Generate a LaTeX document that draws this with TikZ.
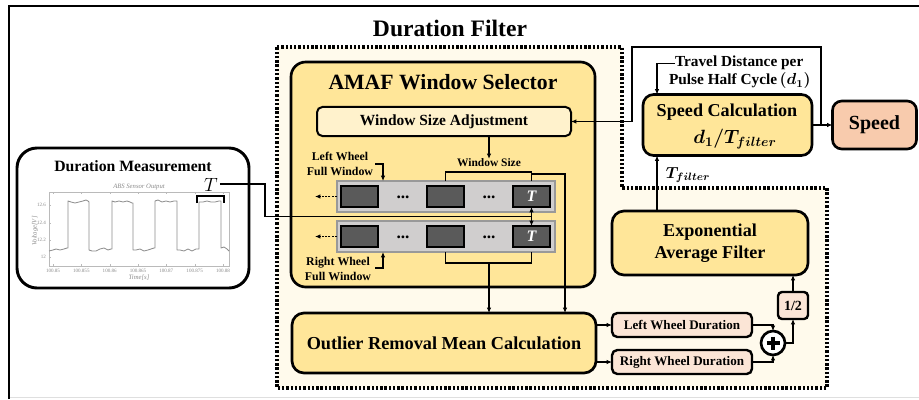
\documentclass[tikz,border=0pt]{standalone}
\usepackage{bm}
\usepackage{fontspec}
\setmainfont{Liberation Serif}
\usetikzlibrary{arrows.meta,calc}
\definecolor{cream}{HTML}{FFFAEC}
\definecolor{yel}{HTML}{FFE699}
\definecolor{lightyel}{HTML}{FFF2CC}
\definecolor{salmon}{HTML}{F8CBAD}
\definecolor{pinkb}{HTML}{FBE5D6}
\definecolor{barg}{HTML}{D0CECE}
\definecolor{cellg}{HTML}{5A5A5A}
\definecolor{plotg}{HTML}{8C8C8C}
\begin{document}
\begin{tikzpicture}[x=0.75pt,y=-0.75pt,
  every node/.style={inner sep=0pt, outer sep=0pt},
  conn/.style={line width=1.1pt, draw=black},
  arr/.style={conn, -{Latex[length=4pt,width=3.4pt]}},
  bx/.style={draw=black, line width=2pt, fill=yel, font=\bfseries},
  cellst/.style={draw=black, line width=0.9pt, fill=cellg, minimum width=27.75pt, minimum height=15.75pt, text=white, font=\bfseries\itshape\fontsize{12}{12}\selectfont},
  barst/.style={draw=gray!80, line width=1.1pt, fill=barg, minimum width=163.5pt, minimum height=23.25pt},
  lab/.style={font=\bfseries\fontsize{8.9}{11.25}\selectfont, align=center},
  dotsst/.style={font=\bfseries\fontsize{13}{13}\selectfont},
  tick/.style={font=\fontsize{3.8}{4}\selectfont, text=plotg},
]
\useasboundingbox (0,0) rectangle (919,399);

% outer frame
\draw[gray!25, line width=0.8pt] (9,397.5) -- (919,397.5);
\draw[line width=2.2pt] (9,399) -- (9,6) -- (919,6);

% dotted region
\draw[fill=cream, line width=2.3pt, dash pattern=on 1.8pt off 1.4pt]
  (277,47) -- (622,47) -- (622,188) -- (827,188) -- (827,388) -- (277,388) -- cycle;

\node[font=\bfseries\fontsize{17.7}{18}\selectfont] (title) at (450,28) {Duration Filter};

% ---------- Duration measurement ----------
\node[draw, line width=2.2pt, fill=white, rounded corners=15pt, minimum width=174pt, minimum height=105pt] (dm) at (133,218) {};
\node[font=\bfseries\fontsize{11.8}{12}\selectfont] (dmt) at (133,166) {Duration Measurement};
% plot
\draw[plotg!60, line width=0.4pt] (49,192) rectangle (229,266);
\foreach \yy/\lab in {205/12.6,223/12.4,240/12.2,257/12}{
  \draw[plotg!60, line width=0.3pt] (49,\yy) -- (51,\yy);
  \node[tick, anchor=east] at (46,\yy) {\lab};
}
\foreach \xx/\lab in {53/100.85,81.3/100.855,109.7/100.86,138/100.865,166.3/100.87,194.7/100.875,223/100.88}{
  \draw[plotg!60, line width=0.3pt] (\xx,266) -- (\xx,264);
  \draw[plotg!60, line width=0.3pt] (\xx,192) -- (\xx,194);
  \node[tick] at (\xx,271) {\lab};
}
\node[font=\itshape\fontsize{5}{5}\selectfont, text=plotg] (ptitle) at (139,187) {ABS Sensor Output};
\node[font=\itshape\fontsize{5}{5}\selectfont, text=plotg] (pxl) at (139,277.5) {Time[s]};
\node[font=\itshape\fontsize{5}{5}\selectfont, text=plotg, rotate=90] (pyl) at (35,231) {Voltage[V]};
\draw[plotg, line width=0.6pt, line join=round] plot coordinates {
 (49,251) (53,250) (56,249) (60,250) (64,249) (67,248) (68,248)
 (68,201) (71,202) (75,203) (79,202) (83,201) (86,200) (88,201) (89,202)
 (89,250) (92,251) (96,251) (100,249) (104,248) (108,250) (111,249) (112,249)
 (112,201) (115,202) (119,201) (123,202) (127,201) (130,202) (132,203) (133,203)
 (133,250) (136,250) (140,249) (144,251) (148,250) (151,249) (154,248) (155,248)
 (155,201) (158,200) (162,202) (166,201) (170,202) (174,201) (176,201) (177,201)
 (177,250) (180,250) (184,251) (188,249) (192,251) (196,249) (199,249)
 (199,202) (203,202) (207,201) (211,202) (215,202) (219,201) (221,201)
 (221,248) (224,247) (227,249) (229,251)};
\draw[line width=1.6pt] (197,203) -- (197,196) -- (224,196) -- (224,203);
\node[font=\fontsize{14}{14}\selectfont] (Tm) at (211,185) {$T$};

% ---------- AMAF ----------
\node[bx, minimum width=228pt, minimum height=168.75pt, rounded corners=11pt] (amaf) at (443,174.5) {};
\node[font=\bfseries\fontsize{16.3}{17}\selectfont] (amaft) at (443,82) {AMAF Window Selector};
\node[bx, fill=lightyel, line width=1.5pt, rounded corners=4pt, minimum width=190.5pt, minimum height=21.75pt, font=\bfseries\fontsize{11.6}{12}\selectfont] (wsa) at (444,121.5) {Window Size Adjustment};

\node[barst] (bar1) at (446,196.5) {};
\node[barst] (bar2) at (446,236.5) {};
\node[cellst] (c11) at (359.5,196.5) {};
\node[cellst] (c12) at (445.5,196.5) {};
\node[cellst] (c13) at (531.5,196.5) {T};
\node[cellst] (c21) at (359.5,236.5) {};
\node[cellst] (c22) at (445.5,236.5) {};
\node[cellst] (c23) at (531.5,236.5) {T};
\node[dotsst] (d11) at (403,197) {...};
\node[dotsst] (d12) at (489,197) {...};
\node[dotsst] (d21) at (403,237) {...};
\node[dotsst] (d22) at (489,237) {...};

\node[lab] (lwl) at (340,163.5) {Left Wheel\\Full Window};
\node[lab] (rwl) at (338,269) {Right Wheel\\Full Window};
\node[font=\bfseries\fontsize{8.6}{9}\selectfont] (wsl) at (489,163) {Window Size};

\coordinate (xL) at (383,0);
\coordinate (xR) at (565,0);
\coordinate (xT) at (657,0);
\coordinate (tj) at (531.5,216.5);
\coordinate (fb) at (821,125);

\draw[arr] (wsa.south -| wsl) -- (wsl.north);
\draw[arr] (375,164) -| (bar1.north -| xL);
\draw[arr] (375,268) -| (bar2.south -| xL);
\draw[arr, dash pattern=on 1.5pt off 1pt] (bar1.west) -- ++(-22,0);
\draw[arr, dash pattern=on 1.5pt off 1pt] (bar2.west) -- ++(-22,0);

\draw[conn] (c12 |- bar1.north) -- ++(0,-9) -| (c13 |- bar1.north);
\draw[conn] (c22 |- bar2.south) -- ++(0,11) -| (c23 |- bar2.south);

% ---------- Outlier ----------
\node[bx, rounded corners=9pt, minimum width=228pt, minimum height=45pt, font=\bfseries\fontsize{13.7}{14}\selectfont] (orm) at (444,343) {Outlier Removal Mean Calculation};

\draw[arr] (531.5,174) -- (565,174) -- (orm.north -| xR);
\draw[arr] (489,263) -- (orm.north -| wsl);

% T line
\draw[conn] (Tm.east) ++(2,-1) -- ++(45,0) |- (tj);
\draw[arr] (tj) -- (c13.south);
\draw[arr] (tj) -- (c23.north);

% ---------- Speed calc ----------
\node[bx, rounded corners=8pt, minimum width=126.75pt, minimum height=45.75pt] (sc) at (727.5,125) {};
\node[font=\bfseries\fontsize{13.6}{14}\selectfont] (sct) at (727,112) {Speed Calculation};
\node[font=\fontsize{14}{14}\selectfont] (scm) at (735,139) {$\bm{d_1/T_{filter}}$};
\node[bx, fill=salmon, rounded corners=7pt, minimum width=63pt, minimum height=36pt, font=\bfseries\fontsize{15}{15}\selectfont] (sp) at (874.5,125) {Speed};
\draw[arr] (sc.east) -- (sp.west);
\draw[arr] (fb) |- (632,47) |- (wsa.east);

\node[font=\bfseries\fontsize{11.5}{12}\selectfont, anchor=base west] (td1) at (675,67) {Travel Distance per};
\node[font=\bfseries\fontsize{11.5}{12}\selectfont, anchor=base west] (td2) at (669,85) {Pulse Half Cycle\,$\bm{(d_1)}$};
\draw[arr] (td1.west) -- ++(-18,0) -- (sc.north -| xT);

% ---------- Exponential ----------
\node[bx, rounded corners=9pt, minimum width=147pt, minimum height=48pt, align=center, font=\bfseries\fontsize{13.6}{16.5}\selectfont] (eaf) at (710,243) {Exponential\\Average Filter};
\draw[arr] (eaf.north -| xT) -- (sc.south -| xT);
\node[font=\fontsize{12}{12}\selectfont] (tfl) at (688,175) {$\bm{T_{filter}}$};

\node[bx, fill=pinkb, line width=1.8pt, rounded corners=3pt, minimum width=22.5pt, minimum height=20.25pt, font=\bfseries\fontsize{10.5}{11}\selectfont] (half) at (793,305.5) {1/2};
\node[circle, draw, line width=2pt, fill=white, minimum size=18pt] (plus) at (773,343) {};
\draw[line width=2.4pt] (766.5,343) -- (779.5,343) (773,336.5) -- (773,349.5);

\node[bx, fill=pinkb, line width=1.8pt, rounded corners=4pt, minimum width=105pt, minimum height=18pt, font=\bfseries\fontsize{9.8}{10}\selectfont] (lwd) at (682,325) {Left Wheel Duration};
\node[bx, fill=pinkb, line width=1.8pt, rounded corners=4pt, minimum width=105pt, minimum height=18pt, font=\bfseries\fontsize{9.8}{10}\selectfont] (rwd) at (682,362) {Right Wheel Duration};

\draw[arr] (half.north) -- (eaf.south -| half.north);
\draw[arr] (plus.east) -| (half.south);
\draw[arr] (lwd.east) -| (plus.north);
\draw[arr] (rwd.east) -| (plus.south);
\draw[arr] (orm.east |- lwd.west) -- (lwd.west);
\draw[arr] (orm.east |- rwd.west) -- (rwd.west);
\end{tikzpicture}
\end{document}
